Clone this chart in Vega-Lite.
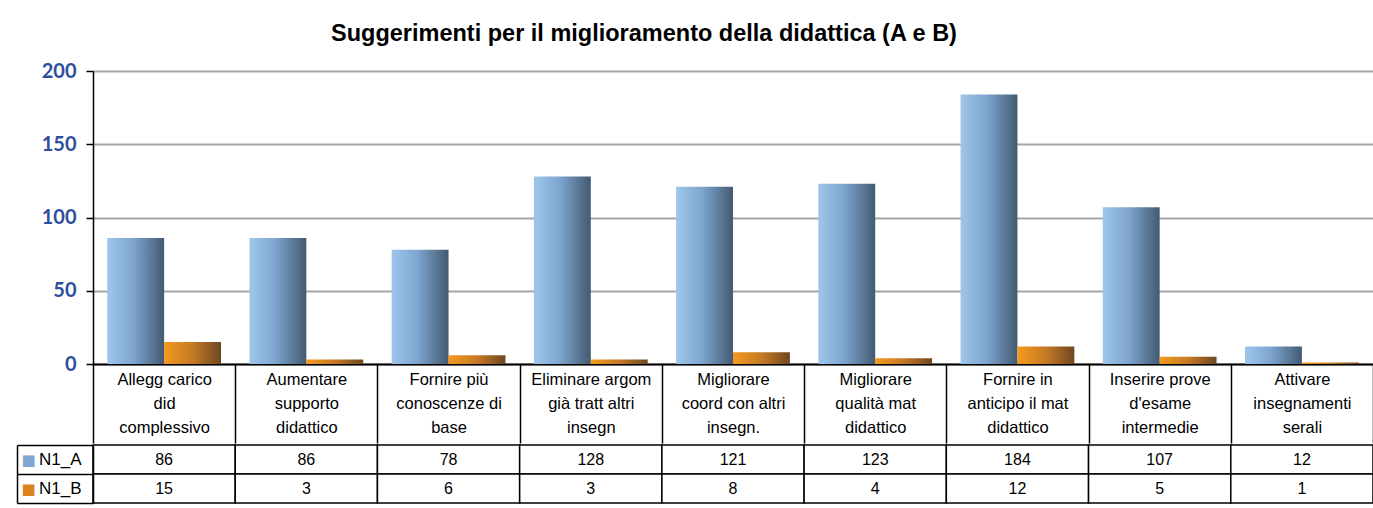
{
  "$schema": "https://vega.github.io/schema/vega-lite/v6.json",
  "padding": {"left": 16, "right": 1, "top": 21, "bottom": 4},
  "autosize": {"type": "pad"},
  "background": "white",
  "config": {"view": {"stroke": null}, "font": "Liberation Sans"},
  "title": {"text": "Suggerimenti per il miglioramento della didattica (A e B)", "fontSize": 23.5, "font": "Liberation Sans", "fontWeight": "bold", "color": "black", "anchor": "middle", "dx": -51, "offset": 16},
  "data": {"values": [
    {"category": "Allegg carico\ndid\ncomplessivo", "series": "N1_A", "value": 86},
    {"category": "Aumentare\nsupporto\ndidattico", "series": "N1_A", "value": 86},
    {"category": "Fornire più\nconoscenze di\nbase", "series": "N1_A", "value": 78},
    {"category": "Eliminare argom\ngià tratt altri\ninsegn", "series": "N1_A", "value": 128},
    {"category": "Migliorare\ncoord con altri\ninsegn.", "series": "N1_A", "value": 121},
    {"category": "Migliorare\nqualità mat\ndidattico", "series": "N1_A", "value": 123},
    {"category": "Fornire in\nanticipo il mat\ndidattico", "series": "N1_A", "value": 184},
    {"category": "Inserire prove\nd'esame\nintermedie", "series": "N1_A", "value": 107},
    {"category": "Attivare\ninsegnamenti\nserali", "series": "N1_A", "value": 12},
    {"category": "Allegg carico\ndid\ncomplessivo", "series": "N1_B", "value": 15},
    {"category": "Aumentare\nsupporto\ndidattico", "series": "N1_B", "value": 3},
    {"category": "Fornire più\nconoscenze di\nbase", "series": "N1_B", "value": 6},
    {"category": "Eliminare argom\ngià tratt altri\ninsegn", "series": "N1_B", "value": 3},
    {"category": "Migliorare\ncoord con altri\ninsegn.", "series": "N1_B", "value": 8},
    {"category": "Migliorare\nqualità mat\ndidattico", "series": "N1_B", "value": 4},
    {"category": "Fornire in\nanticipo il mat\ndidattico", "series": "N1_B", "value": 12},
    {"category": "Inserire prove\nd'esame\nintermedie", "series": "N1_B", "value": 5},
    {"category": "Attivare\ninsegnamenti\nserali", "series": "N1_B", "value": 1}
  ]},
  "spacing": -8,
  "vconcat": [
    {
      "width": 1280,
      "height": 293,
      "encoding": {
        "x": {"field": "category", "type": "nominal", "sort": null, "scale": {"paddingInner": 0, "paddingOuter": 0},
          "axis": {"title": null, "labelExpr": "split(datum.label, '\\n')", "labelFontSize": 16.5, "labelColor": "black", "labelFont": "Liberation Sans", "labelLineHeight": 24, "labelPadding": -72, "labelOverlap": false, "labelLimit": 0, "labelBound": false, "labelAngle": 0, "tickBand": "extent", "tickSize": 79, "tickColor": "black", "tickWidth": 1.5, "domainColor": "black", "domainWidth": 2}},
        "xOffset": {"field": "series", "type": "nominal", "scale": {"paddingInner": 0, "paddingOuter": 0.25}},
        "y": {"field": "value", "type": "quantitative", "scale": {"domain": [0, 200], "nice": false},
          "axis": {"title": null, "values": [0, 50, 100, 150, 200], "labelFont": "Lato", "labelFontWeight": "bold", "labelFontSize": 20, "labelColor": "#2E4F9E", "labelPadding": 10, "tickSize": 7, "tickColor": "black", "tickWidth": 1.5, "domainColor": "black", "domainWidth": 1.5, "gridColor": "#A5A5A5", "gridWidth": 2}}
      },
      "layer": [
        {"transform": [{"filter": "datum.series == 'N1_A'"}],
         "mark": {"type": "bar", "fill": {"gradient": "linear", "x1": 0, "x2": 1, "y1": 0, "y2": 0, "stops": [{"offset": 0, "color": "#9FC6EA"}, {"offset": 0.45, "color": "#7EA6D0"}, {"offset": 1, "color": "#435A72"}]}}},
        {"transform": [{"filter": "datum.series == 'N1_B'"}],
         "mark": {"type": "bar", "fill": {"gradient": "linear", "x1": 0, "x2": 1, "y1": 0, "y2": 0, "stops": [{"offset": 0, "color": "#F59A1F"}, {"offset": 0.5, "color": "#C67A25"}, {"offset": 1, "color": "#6E4720"}]}}}
      ]
    },
    {
      "width": 1280,
      "height": 58,
      "encoding": {
        "x": {"field": "category", "type": "nominal", "sort": null, "scale": {"paddingInner": 0, "paddingOuter": 0}, "axis": null}
      },
      "layer": [
        {"mark": {"type": "rect", "fill": "white", "stroke": "black", "strokeWidth": 1.5},
         "encoding": {"y": {"field": "series", "type": "nominal", "scale": {"paddingInner": 0, "paddingOuter": 0},
           "axis": {"title": null, "orient": "left", "grid": false, "tickBand": "extent", "tickSize": 76, "tickColor": "black", "tickWidth": 1.5, "domainColor": "black", "domainWidth": 1.5, "labelPadding": -64, "labelFontSize": 17, "labelColor": "black", "labelFont": "Liberation Sans", "labelAlign": "right"}}}},
        {"mark": {"type": "text", "fontSize": 16, "font": "Liberation Sans", "color": "black"},
         "encoding": {"text": {"field": "value", "type": "quantitative"},
           "y": {"field": "series", "type": "nominal", "scale": {"paddingInner": 0, "paddingOuter": 0},
           "axis": {"title": null, "orient": "left", "offset": 76, "grid": false, "ticks": false, "tickSize": 0, "domainColor": "black", "domainWidth": 1.5, "labelExpr": "'■'", "labelAlign": "left", "labelPadding": -4, "labelFont": "DejaVu Sans", "labelFontSize": 15, "labelColor": {"condition": {"test": "datum.value == 'N1_A'", "value": "#7EA6D0"}, "value": "#D9831F"}}}}}
      ],
      "resolve": {"axis": {"y": "independent"}}
    }
  ]
}
